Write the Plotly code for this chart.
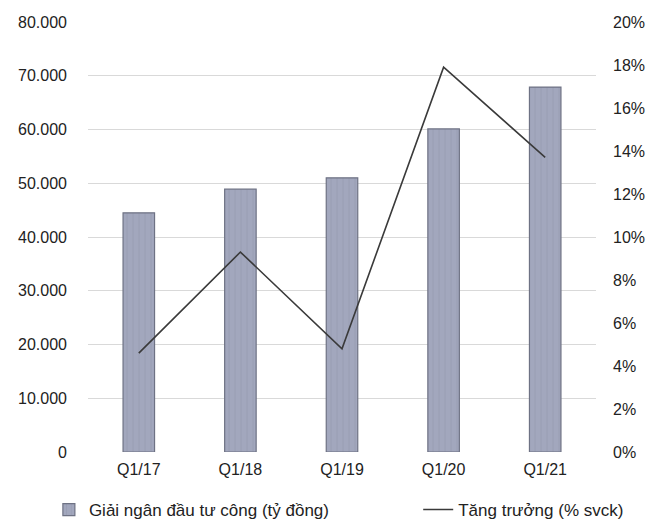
import plotly.graph_objects as go

quarters = ["Q1/17", "Q1/18", "Q1/19", "Q1/20", "Q1/21"]
disbursement = [44500, 48900, 51000, 60100, 67900]
growth = [4.6, 9.3, 4.8, 17.9, 13.7]

fig = go.Figure()

# bars: public investment disbursement (left axis)
fig.add_trace(
    go.Bar(x=quarters, y=disbursement, name="Giải ngân đầu tư công (tỷ đồng)",
           marker=dict(color="#a2a7bd", line=dict(color="#6e7284", width=1.2),
                       pattern=dict(shape="|", fgcolor="#8c91a6", size=6, solidity=0.15)),
           yaxis="y", legend="legend")
)

# line: growth yoy (right axis)
fig.add_trace(
    go.Scatter(x=quarters, y=growth, name="Tăng trưởng (% svck)", mode="lines",
               line=dict(color="#3a3a3a", width=1.6), yaxis="y2", legend="legend2")
)

# page body has an 8px default margin, so the margins are shifted by 8
fig.update_layout(
    width=666, height=524,
    margin=dict(l=80, r=78, t=14, b=80, autoexpand=False),
    paper_bgcolor="white", plot_bgcolor="white",
    separators=",.",
    font=dict(family="Liberation Sans, Arial", size=16, color="#222"),
    bargap=0.69,
    showlegend=True,
    legend=dict(orientation="h", x=-0.077, xanchor="left", y=0.042, yref="container",
                yanchor="middle", font=dict(size=17), itemwidth=30),
    legend2=dict(orientation="h", x=0.65, xanchor="left", y=0.042, yref="container",
                 yanchor="middle", font=dict(size=17), itemwidth=30),
    xaxis=dict(showgrid=False, showline=False, ticks="", ticklabelstandoff=6),
    yaxis=dict(range=[0, 80000], dtick=10000, tickformat=",d", showgrid=True,
               gridcolor="#d9d9d9", gridwidth=1, zeroline=False, showline=False,
               ticklabelstandoff=20),
    yaxis2=dict(range=[0, 20], dtick=2, ticksuffix="%", overlaying="y", side="right",
                showgrid=False, zeroline=False, showline=False, ticklabelstandoff=16),
)

fig.write_html("out.html")
